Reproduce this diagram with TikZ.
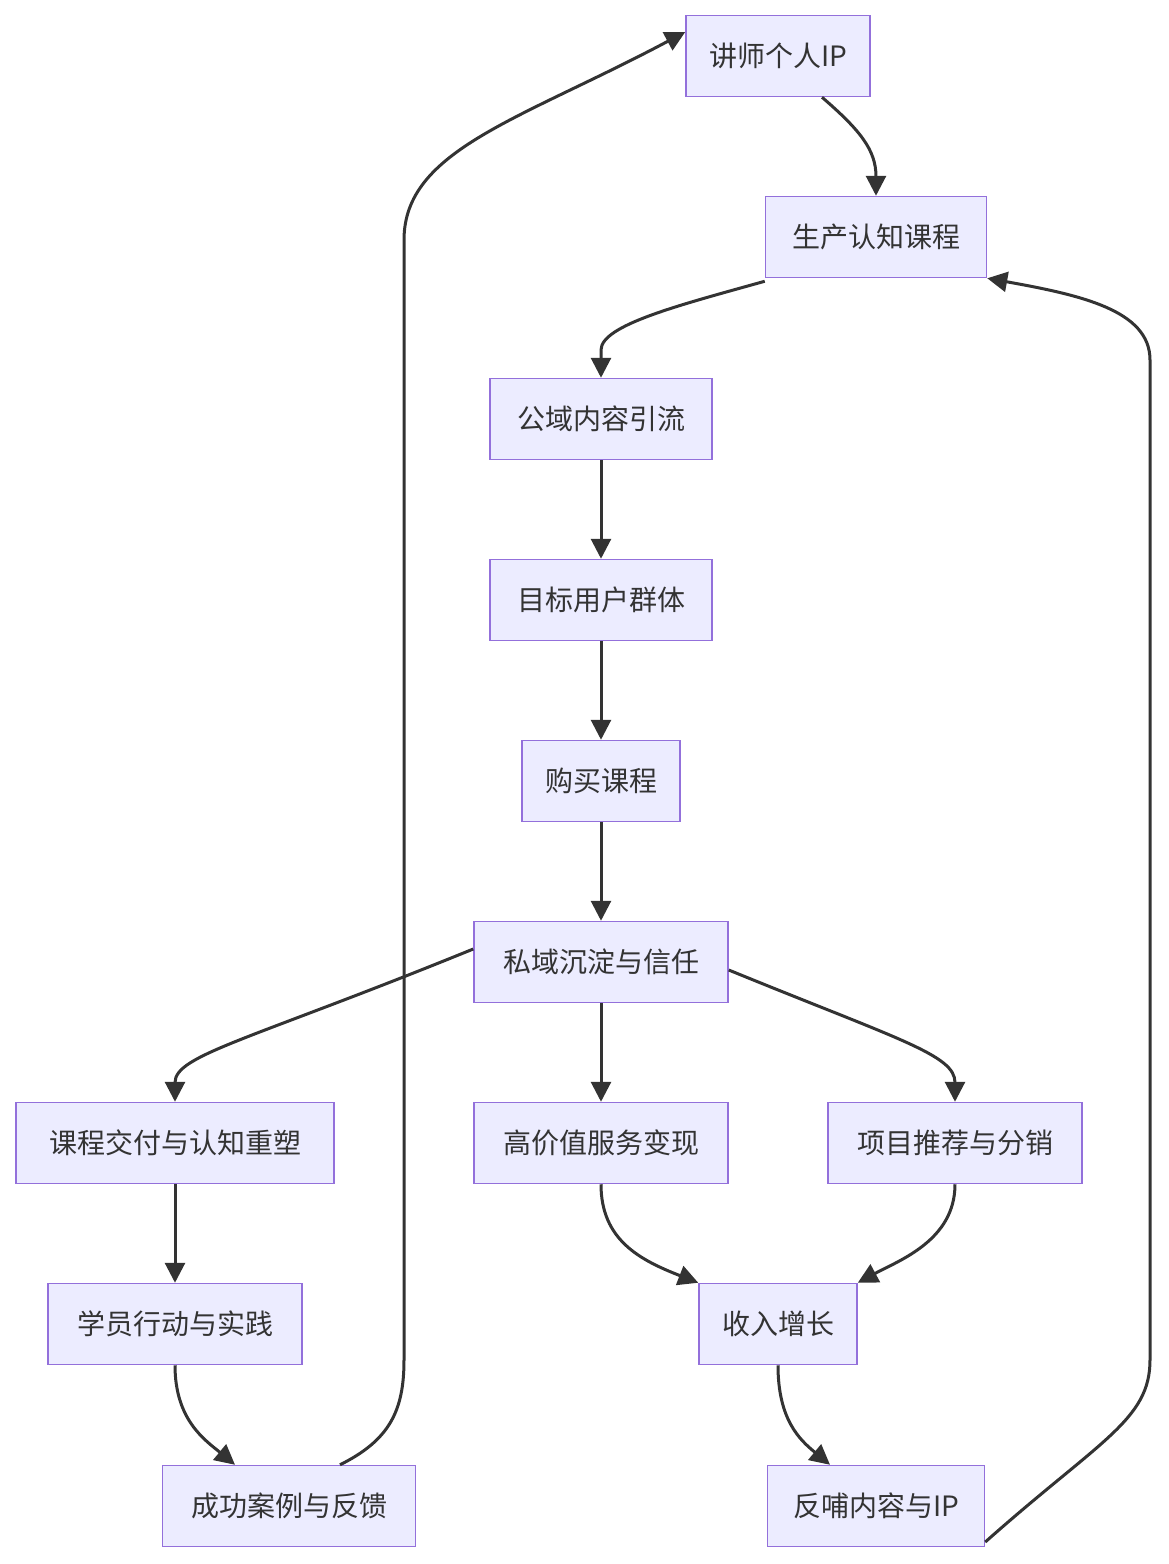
\documentclass[tikz,border=0pt]{standalone}
\usepackage{fontspec}
\newfontfamily\cjk{Noto Sans CJK SC}
\usetikzlibrary{arrows.meta}
\begin{document}
\begin{tikzpicture}[x=1pt,y=-1pt,
 box/.style={draw=mermaidStroke,fill=mermaidFill,line width=1.5pt,minimum height=81pt,inner sep=0pt,font=\cjk\fontsize{28}{30}\selectfont,text=black!80},
 e/.style={draw=edge,line width=3pt,-{Triangle[length=20pt,width=20pt]}}]
\definecolor{mermaidStroke}{HTML}{9370DB}
\definecolor{mermaidFill}{HTML}{ECECFF}
\definecolor{edge}{HTML}{333333}
\useasboundingbox (0,0) rectangle (1168,1564);
\node[box,minimum width=184pt] (ip) at (778,56) {讲师个人IP};
\node[box,minimum width=221pt] (sc) at (876,237) {生产认知课程};
\node[box,minimum width=222pt] (gy) at (601,419) {公域内容引流};
\node[box,minimum width=222pt] (mb) at (601,600) {目标用户群体};
\node[box,minimum width=158pt] (gm) at (601,781) {购买课程};
\node[box,minimum width=254pt] (sy) at (601,962) {私域沉淀与信任};
\node[box,minimum width=318pt] (kc) at (175,1143) {课程交付与认知重塑};
\node[box,minimum width=254pt] (gj) at (601,1143) {高价值服务变现};
\node[box,minimum width=254pt] (xm) at (955,1143) {项目推荐与分销};
\node[box,minimum width=254pt] (xy) at (175,1324) {学员行动与实践};
\node[box,minimum width=158pt] (sr) at (778,1324) {收入增长};
\node[box,minimum width=253pt] (cg) at (289,1506) {成功案例与反馈};
\node[box,minimum width=217pt] (fb) at (876,1506) {反哺内容与IP};
\draw[e] ([xshift=44pt]ip.south) .. controls (860,130) and (876,150) .. (sc.north);
\draw[e] ([yshift=-3pt]sc.south west) .. controls (680,305) and (601,325) .. (601,350) -- (gy.north);
\draw[e] (gy) -- (mb);
\draw[e] (mb) -- (gm);
\draw[e] (gm) -- (sy);
\draw[e] ([yshift=13pt]sy.west) .. controls (250,1040) and (175,1055) .. (kc.north);
\draw[e] (sy) -- (gj);
\draw[e] ([yshift=-8pt]sy.east) .. controls (900,1040) and (955,1055) .. (xm.north);
\draw[e] (kc) -- (xy);
\draw[e] (xy.south) .. controls (175,1420) and (205,1440) .. ([xshift=-54pt]cg.north);
\draw[e] ([xshift=51pt]cg.north) .. controls (390,1440) and (404,1410) .. (404,1360) -- (404,240) .. controls (404,150) and (520,120) .. ([yshift=24pt]ip.west);
\draw[e] (gj.south) .. controls (601,1240) and (640,1260) .. (sr.north west);
\draw[e] (xm.south) .. controls (955,1240) and (900,1260) .. (sr.north east);
\draw[e] (sr.south) .. controls (778,1420) and (800,1440) .. ([xshift=-46pt]fb.north);
\draw[e] ([yshift=-36pt]fb.east) .. controls (1100,1440) and (1150,1420) .. (1150,1360) -- (1150,360) .. controls (1150,310) and (1080,295) .. (sc.south east);
\end{tikzpicture}
\end{document}
